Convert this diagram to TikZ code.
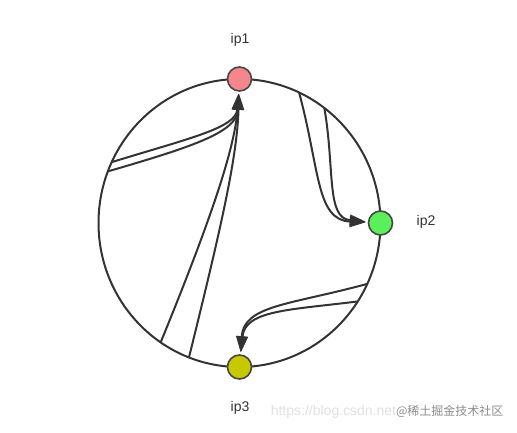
\documentclass[tikz,border=0pt]{standalone}
\usepackage{fontspec}
\setmainfont{Liberation Sans}
\newfontfamily\cjk{Noto Sans CJK SC}
\usetikzlibrary{calc,arrows.meta}
\definecolor{ringgray}{HTML}{333333}
\definecolor{ipred}{HTML}{F4878D}
\definecolor{ipgreen}{HTML}{5AF05A}
\definecolor{ipolive}{HTML}{C8C800}
\tikzset{
	ring/.style={line width=2pt, draw=ringgray},
	ipnode/.style={circle, minimum size=24pt, inner sep=0pt, line width=1.6pt, draw=ringgray!90},
	iplabel/.style={font=\fontsize{14}{16}\selectfont, text=ringgray},
	hop/.style={line width=2pt, draw=ringgray, -{Triangle[length=16pt,width=11pt]}, shorten >=2pt}
}

\begin{document}
\begin{tikzpicture}[x=1pt, y=1pt]
			%%%%% START %%%%%
			
			\useasboundingbox (0, 0) rectangle (517, 432);
			
			\coordinate (c) at (239.5, 209);
			\draw[ring] (c) ellipse (141 and 144);
			
			\coordinate (a1) at ($(c)+(155:141 and 144)$);
			\coordinate (a2) at ($(c)+(159:141 and 144)$);
			\coordinate (b1) at ($(c)+(236:141 and 144)$);
			\coordinate (b2) at ($(c)+(249:141 and 144)$);
			\coordinate (r1) at ($(c)+(65:141 and 144)$);
			\coordinate (r2) at ($(c)+(53:141 and 144)$);
			\coordinate (d1) at ($(c)+(-25:141 and 144)$);
			\coordinate (d2) at ($(c)+(-33:141 and 144)$);
			
			\node[ipnode, fill=ipred] (ip1) at (239.5, 353) {};
			\node[ipnode, fill=ipgreen] (ip2) at (380.5, 209) {};
			\node[ipnode, fill=ipolive] (ip3) at (239.5, 65) {};
			
			\node[iplabel] at (240, 392) {ip1};
			\node[iplabel] at (426, 210) {ip2};
			\node[iplabel] at (240, 24) {ip3};
			
			\draw[hop] (a1) .. controls (190, 294) and (236, 304) .. (ip1);
			\draw[hop] (a2) .. controls (195, 286) and (237, 300) .. (ip1);
			\draw[hop] (b1) .. controls (212, 215) and (235, 285) .. (ip1);
			\draw[hop] (b2) .. controls (222, 208) and (237, 275) .. (ip1);
			
			\draw[hop] (r1) .. controls (320, 262) and (316, 212) .. (ip2);
			\draw[hop] (r2) .. controls (335, 262) and (326, 214) .. (ip2);
			
			\draw[hop] (d1) .. controls (290, 127) and (244, 127) .. (ip3);
			\draw[hop] (d2) .. controls (290, 122) and (245, 122) .. (ip3);
			
			\node[anchor=east, font=\fontsize{14}{16}\selectfont, text=black!12] at (507, 20) {https://blog.csdn.net{\color{black!45}\cjk\fontsize{12}{14}\selectfont @稀土掘金技术社区}};
			
			%%%%% END %%%%%
\end{tikzpicture}
\end{document}
